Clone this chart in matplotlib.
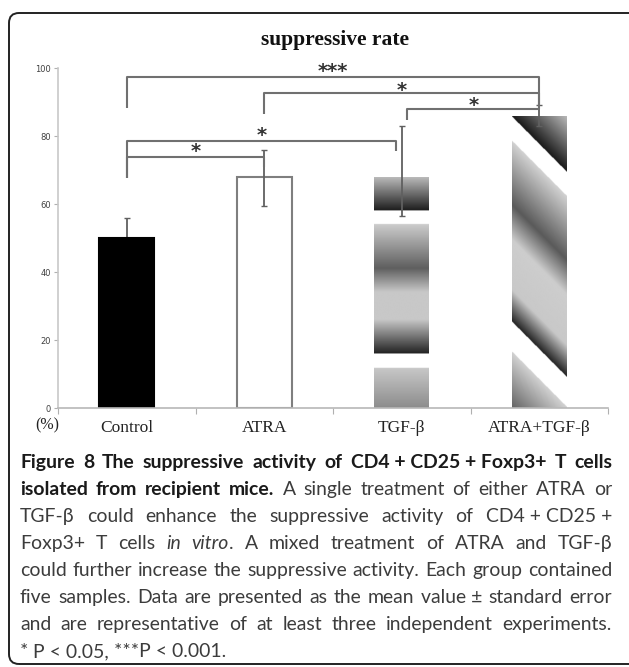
import numpy as np
import matplotlib
matplotlib.use('Agg')
import matplotlib.pyplot as plt
from matplotlib.patches import FancyBboxPatch
from matplotlib.transforms import IdentityTransform

groups = ['Control', 'ATRA', 'TGF-β', 'ATRA+TGF-β']
means = [50, 68, 68, 86]
err_lo = [6, 8.5, 11.5, 3]
err_hi = [6, 8, 15, 3]

# significance brackets: x left, x right, bar level, left leg end, right leg end, label, label level
brackets = [
    (0, 3, 97.4, 88.2, 88.8, '***', 98.9),
    (1, 3, 92.6, 86.5, 88.8, '*', 93.4),
    (2.04, 3, 88.0, 84.7, 88.8, '*', 88.9),
    (0, 1.96, 78.5, 67.6, 75.6, '*', 80.0),
    (0, 1, 73.8, 67.6, 71.0, '*', 75.4),
]

caption = [
    ([('Figure 8 The suppressive activity of CD4\u00a0+\u00a0CD25\u00a0+\u00a0Foxp3+ T cells', 'b')], True),
    ([('isolated from recipient mice.', 'b'), (' A single treatment of either ATRA or', 'r')], True),
    ([('TGF-β could enhance the suppressive activity of CD4\u00a0+\u00a0CD25\u00a0+', 'r')], True),
    ([('Foxp3+ T cells ', 'r'), ('in vitro', 'i'), ('. A mixed treatment of ATRA and TGF-β', 'r')], True),
    ([('could further increase the suppressive activity. Each group contained', 'r')], True),
    ([('five samples. Data are presented as the mean value\u00a0± standard error', 'r')], True),
    ([('and are representative of at least three independent experiments.', 'r')], True),
    ([('* P\u00a0<\u00a00.05, ***P\u00a0<\u00a00.001.', 'r')], False),
]

W, H = 629, 667
fig = plt.figure(figsize=(W / 100, H / 100), dpi=100)

# rounded frame around the panel
frame = FancyBboxPatch((9, 3), 640, 651, boxstyle='round,pad=0,rounding_size=10',
                       transform=IdentityTransform(), fill=False, ec='#222222', lw=1.4)
fig.patches.append(frame)

ax = fig.add_axes([58 / W, 1 - 408 / H, 550 / W, 340 / H])
x = np.arange(len(groups))
bars = ax.bar(x, means, width=0.4, color=['black', 'white', 'none', 'none'],
              edgecolor=['black', '#7f7f7f', 'none', 'none'], linewidth=1.5, zorder=2)


def fill_gradient(patch, stops, gaps, slope=0.0):
    x0, y0 = patch.get_x(), patch.get_y()
    w, h = patch.get_width(), patch.get_height()
    X, Y = np.meshgrid(np.linspace(x0, x0 + w, 120), np.linspace(y0, y0 + h, 600))
    U = Y + slope * (X - x0)
    sv, sg = zip(*stops)
    img = np.interp(U, sv, sg)
    for a, b in gaps:
        img[(U > a) & (U < b)] = 255
    im = ax.imshow(img, cmap='gray', vmin=0, vmax=255, origin='lower',
                   extent=(x0, x0 + w, y0, y0 + h), aspect='auto',
                   interpolation='bilinear', zorder=2)
    im.set_clip_path(patch)


fill_gradient(bars[2],
              [(0, 140), (11.8, 200), (16, 35), (26, 200), (34, 200), (41, 95), (54, 205), (58, 30), (68, 190)],
              [(11.8, 16), (54, 58)])
fill_gradient(bars[3],
              [(0, 100), (16.5, 210), (25.3, 35), (34.7, 200), (49.4, 205), (59.7, 90), (78.5, 210), (85.6, 25), (102.5, 190)],
              [(16.5, 25.3), (78.5, 85.6)], slope=40.4)

# control's lower whisker sits behind the black bar
ax.errorbar(x[:1], means[:1], yerr=[err_lo[:1], err_hi[:1]], fmt='none', ecolor='#606060',
            elinewidth=1.3, capsize=2, capthick=1, zorder=1)
ax.errorbar(x[1:], means[1:], yerr=[err_lo[1:], err_hi[1:]], fmt='none', ecolor='#606060',
            elinewidth=1.3, capsize=2, capthick=1, zorder=3)

for x0, x1, yb, l0, l1, lab, ylab in brackets:
    ax.plot([x0, x0, x1, x1], [l0, yb, yb, l1], color='#707070', lw=1.5,
            clip_on=False, zorder=4, solid_capstyle='butt')
    ax.text((x0 + x1) / 2, ylab, lab, ha='center', va='center', fontsize=14,
            fontweight='bold', family='DejaVu Sans', color='#333333', clip_on=False)

ax.set_xlim(-0.5, 3.5)
ax.set_ylim(0, 100)
ax.set_yticks(range(0, 101, 20))
ax.tick_params(axis='y', labelsize=6, labelcolor='#404040', length=3, width=0.8,
               color='#b0b0b0', pad=2)
ax.set_xticks(x)
ax.set_xticklabels(groups, family='Liberation Serif', fontsize=12.5, color='#222222')
ax.set_xticks([-0.5, 0.5, 1.5, 2.5, 3.5], minor=True)
ax.tick_params(axis='x', which='major', length=0, pad=9)
ax.tick_params(axis='x', which='minor', length=4, width=0.8, color='#b0b0b0', direction='out')
for s in ['top', 'right']:
    ax.spines[s].set_visible(False)
ax.spines['left'].set_color('#c8c8c8')
ax.spines['bottom'].set_color('#b8b8b8')
ax.spines['left'].set_linewidth(1.2)
ax.spines['bottom'].set_linewidth(1.2)
ax.patch.set_alpha(0)

fig.text(335 / W, 1 - 40 / H, 'suppressive rate', ha='center', va='center',
         family='Liberation Serif', fontweight='bold', fontsize=15.5, color='#111111')
fig.text(47 / W, 1 - 425 / H, '(%)', ha='center', va='center',
         family='Liberation Serif', fontsize=11.5, color='#222222')

# caption, justified word by word
styles = {'b': dict(fontweight='bold', color='#1a1a1a'),
          'r': dict(fontweight='normal', color='#3c3c3c'),
          'i': dict(fontweight='normal', style='italic', color='#3c3c3c')}
fam = ['Lato', 'DejaVu Sans']
left, right = 20, 612
base0, step = 468, 27
renderer = fig.canvas.get_renderer()


def split_words(runs):
    words, joined = [], False
    for text, st in runs:
        for i, p in enumerate(text.split(' ')):
            if not p:
                continue
            if i == 0 and joined and words:
                words[-1].append((p, st))
            else:
                words.append([(p, st)])
        joined = not text.endswith(' ')
    return words


def measure(size):
    out = []
    for runs, just in caption:
        ws = []
        for word in split_words(runs):
            pieces = []
            for p, st in word:
                t = fig.text(0, 0, p, fontsize=size, family=fam, **styles[st])
                pieces.append((p, st, t.get_window_extent(renderer).width))
                t.remove()
            ws.append(pieces)
        out.append(ws)
    return out


size = 15.0
space = 0.26 * size * 100 / 72
words_all = measure(size)
ratio = max(sum(pc[2] for w in ws for pc in w) + space * (len(ws) - 1)
            for ws, (_, j) in zip(words_all, caption) if j) / (right - left)
if ratio > 1:
    size /= ratio * 1.01
    space = 0.26 * size * 100 / 72
    words_all = measure(size)

for k, (ws, (_, just)) in enumerate(zip(words_all, caption)):
    total = sum(pc[2] for w in ws for pc in w)
    gap = (right - left - total) / (len(ws) - 1) if just else space
    xc = left
    yb = base0 + k * step
    for w in ws:
        for p, st, wd in w:
            fig.text(xc / W, 1 - yb / H, p, fontsize=size, family=fam, va='baseline',
                     ha='left', **styles[st])
            xc += wd
        xc += gap

fig.savefig('out.png', dpi=100)
